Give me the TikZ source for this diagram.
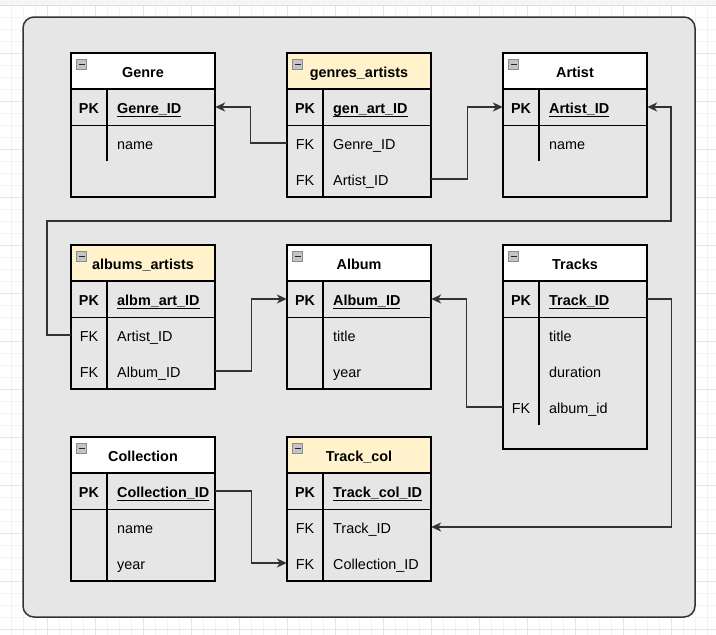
\documentclass[tikz,border=0pt]{standalone}
\usepackage{fontspec}
\setmainfont{Liberation Sans}
\usetikzlibrary{arrows.meta,calc}

\definecolor{paneFill}{HTML}{E6E6E6}
\definecolor{paneEdge}{HTML}{333333}
\definecolor{linkCol}{HTML}{333333}
\definecolor{joinFill}{HTML}{FFF2CC}
\definecolor{gridMinor}{HTML}{F3F3F3}
\definecolor{gridMajor}{HTML}{E6E6E6}
\definecolor{iconFill}{HTML}{C4C4C4}
\definecolor{iconEdge}{HTML}{8C8C8C}

\newcommand{\erfont}{\fontsize{14.4pt}{17pt}\selectfont}
\newsavebox{\keybox}
% underline that sits on the underscore line
\newcommand{\keyline}[1]{\sbox{\keybox}{#1}\rlap{\rule[-3pt]{\wd\keybox}{0.9pt}}\usebox{\keybox}}

\tikzset{
  headbox/.style={draw=black, line width=1.2pt, minimum width=144pt, minimum height=36pt,
    inner sep=0pt, font=\erfont\bfseries, text height=10.4pt, text depth=0pt},
  headtext/.style={inner sep=0pt, font=\erfont\bfseries, text height=10.4pt, text depth=0pt},
  rowbox/.style={minimum width=144pt, minimum height=36pt, inner sep=0pt},
  keytext/.style={inner sep=0pt, font=\erfont, text height=10.4pt, text depth=0pt},
  fieldtext/.style={anchor=west, inner sep=0pt, font=\erfont, text height=10.4pt, text depth=0pt},
  tableline/.style={draw=black, line width=1.2pt},
  collapse/.style={draw=iconEdge, fill=iconFill, minimum size=10pt, inner sep=0pt, line width=0.7pt,
    path picture={\draw[line width=1pt, black!85]
      ([xshift=2pt]path picture bounding box.west) -- ([xshift=-2pt]path picture bounding box.east);}},
  link/.style={draw=linkCol, line width=1.3pt, -{Stealth[length=10pt,width=9pt,inset=3pt]}},
}

% header of a table: id, x, y, title, fill
\newcommand{\tablehead}[5]{%
  \node[headbox, fill=#5] (#1) at ({#2+72},{#3+18}) {};
  \node[headtext] (#1-t) at ({#2+72},{#3+19.3}) {#4};
  \node[collapse] (#1-icon) at ({#2+10.5},{#3+11}) {};
}
% primary key row: id, x, y, field
\newcommand{\pkrow}[4]{%
  \node[rowbox] (#1) at ({#2+72},{#3+18}) {};
  \node[keytext, font=\erfont\bfseries] (#1-k) at ({#2+18},{#3+19.3}) {PK};
  \node[fieldtext, font=\erfont\bfseries] (#1-f) at ({#2+46},{#3+19.3}) {\keyline{#4}};
  \draw[tableline] (#1.south west) -- (#1.south east);
}
% ordinary row: id, x, y, key, field
\newcommand{\fieldrow}[5]{%
  \node[rowbox] (#1) at ({#2+72},{#3+18}) {};
  \node[keytext] (#1-k) at ({#2+18},{#3+19.3}) {#4};
  \node[fieldtext] (#1-f) at ({#2+46},{#3+19.3}) {#5};
}
% outline and key column divider: x, y, height, divider end
\newcommand{\tableframe}[4]{%
  \draw[tableline] (#1,#2) rectangle ({#1+144},{#2+#3});
  \draw[tableline] ({#1+36},{#2+36}) -- ({#1+36},#4);
}

\begin{document}
\begin{tikzpicture}[x=1pt,y=-1pt]
  \useasboundingbox (0,0) rectangle (716,635);
  \fill[white] (0,0) rectangle (716,635);

  % canvas grid
  \foreach \k in {0,...,60} \draw[gridMinor, line width=0.8pt] ({12*\k-0.5},0) -- ({12*\k-0.5},635);
  \foreach \k in {0,...,53} \draw[gridMinor, line width=0.8pt] (0,{5+12*\k}) -- (716,{5+12*\k});
  \foreach \k in {0,4,...,60} \draw[gridMajor, line width=0.8pt] ({12*\k-0.5},0) -- ({12*\k-0.5},635);
  \foreach \k in {0,4,...,52} \draw[gridMajor, line width=0.8pt] (0,{5+12*\k}) -- (716,{5+12*\k});
  \fill[black!4] (0,0) rectangle (716,5);
  \draw[black!13, line width=0.8pt] (0,5) -- (716,5);

  % container
  \draw[paneEdge, fill=paneFill, line width=1.5pt, rounded corners=11pt] (23,17) rectangle (695,617);

  % Genre
  \tablehead{genre}{71}{53}{Genre}{white}
  \pkrow{genre-1}{71}{89}{Genre\_ID}
  \fieldrow{genre-2}{71}{125}{}{name}
  \tableframe{71}{53}{144}{161}

  % genres_artists
  \tablehead{ga}{287}{53}{genres\_artists}{joinFill}
  \pkrow{ga-1}{287}{89}{gen\_art\_ID}
  \fieldrow{ga-2}{287}{125}{FK}{Genre\_ID}
  \fieldrow{ga-3}{287}{161}{FK}{Artist\_ID}
  \tableframe{287}{53}{144}{197}

  % Artist
  \tablehead{artist}{503}{53}{Artist}{white}
  \pkrow{artist-1}{503}{89}{Artist\_ID}
  \fieldrow{artist-2}{503}{125}{}{name}
  \tableframe{503}{53}{144}{161}

  % albums_artists
  \tablehead{aa}{71}{245}{albums\_artists}{joinFill}
  \pkrow{aa-1}{71}{281}{albm\_art\_ID}
  \fieldrow{aa-2}{71}{317}{FK}{Artist\_ID}
  \fieldrow{aa-3}{71}{353}{FK}{Album\_ID}
  \tableframe{71}{245}{144}{389}

  % Album
  \tablehead{album}{287}{245}{Album}{white}
  \pkrow{album-1}{287}{281}{Album\_ID}
  \fieldrow{album-2}{287}{317}{}{title}
  \fieldrow{album-3}{287}{353}{}{year}
  \tableframe{287}{245}{144}{389}

  % Tracks
  \tablehead{tr}{503}{245}{Tracks}{white}
  \pkrow{tr-1}{503}{281}{Track\_ID}
  \fieldrow{tr-2}{503}{317}{}{title}
  \fieldrow{tr-3}{503}{353}{}{duration}
  \fieldrow{tr-4}{503}{389}{FK}{album\_id}
  \tableframe{503}{245}{204}{425}

  % Collection
  \tablehead{col}{71}{437}{Collection}{white}
  \pkrow{col-1}{71}{473}{Collection\_ID}
  \fieldrow{col-2}{71}{509}{}{name}
  \fieldrow{col-3}{71}{545}{}{year}
  \tableframe{71}{437}{144}{581}

  % Track_col
  \tablehead{tc}{287}{437}{Track\_col}{joinFill}
  \pkrow{tc-1}{287}{473}{Track\_col\_ID}
  \fieldrow{tc-2}{287}{509}{FK}{Track\_ID}
  \fieldrow{tc-3}{287}{545}{FK}{Collection\_ID}
  \tableframe{287}{437}{144}{581}

  % relations
  \coordinate (aaBendL) at (47,221);
  \coordinate (aaBendR) at (671,221);
  \draw[link] (ga-2.west) -- ++(-36,0) |- (genre-1.east);
  \draw[link] (ga-3.east) -- ++(36,0) |- (artist-1.west);
  \draw[link] (aa-2.west) -| (aaBendL) -- (aaBendR) |- (artist-1.east);
  \draw[link] (aa-3.east) -- ++(36,0) |- (album-1.west);
  \draw[link] (tr-4.west) -- ++(-36,0) |- (album-1.east);
  \draw[link] (tr-1.east) -- ++(24,0) |- (tc-2.east);
  \draw[link] (col-1.east) -- ++(36,0) |- (tc-3.west);
\end{tikzpicture}
\end{document}
